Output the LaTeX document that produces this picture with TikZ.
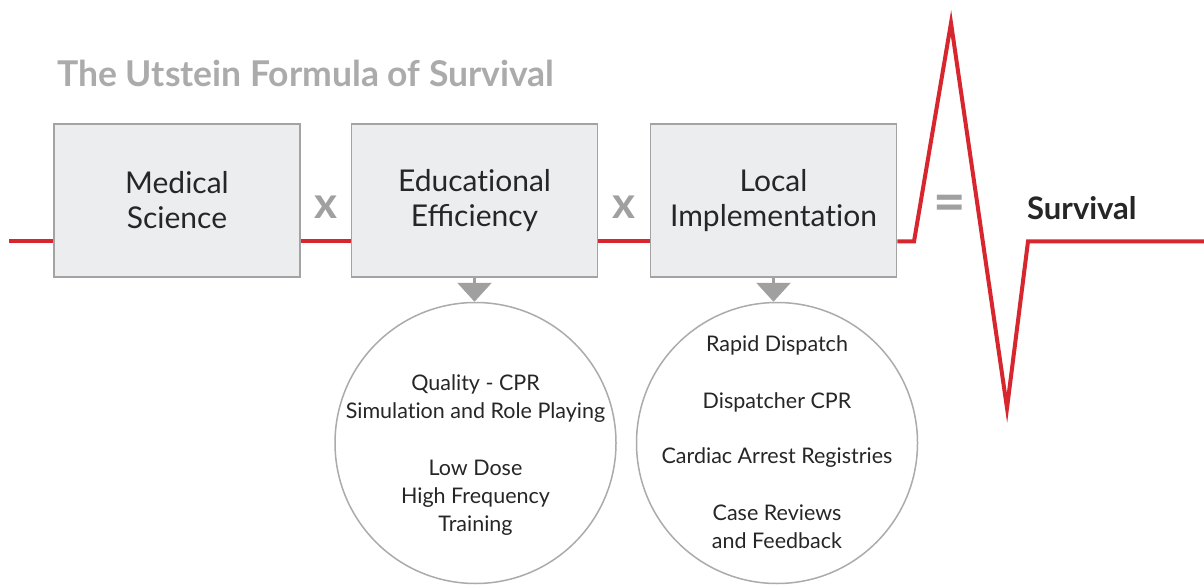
\documentclass[tikz,border=0pt]{standalone}
\usepackage{fontspec}
\setmainfont{Lato}
\usetikzlibrary{arrows.meta}
\definecolor{ekg}{HTML}{D8262E}
\definecolor{boxfill}{HTML}{ECEDEF}
\definecolor{boxline}{HTML}{A3A3A3}
\definecolor{symgray}{HTML}{A0A0A0}
\definecolor{titlegray}{HTML}{ABABAB}
\definecolor{ink}{HTML}{262626}
\definecolor{circline}{HTML}{ABABAB}
\newcommand{\nolig}{\kern0pt }
\begin{document}
\begin{tikzpicture}[x=1pt,y=-1pt,
  box/.style={draw=boxline, line width=1.5pt, fill=boxfill, minimum width=246pt,
    minimum height=153pt, inner sep=0pt, align=center,
    font=\fontsize{30}{35}\selectfont, text=ink},
  ekgline/.style={draw=ekg, line width=4pt},
  sym/.style={text=symgray, font=\fontsize{44}{44}\selectfont\bfseries, inner sep=0pt},
  circ/.style={circle, draw=circline, line width=1.5pt, fill=white, minimum size=281pt, inner sep=0pt},
  ctext/.style={text=ink, align=center, font=\fontsize{21.5}{28}\selectfont, inner sep=0pt},
  downarrow/.style={draw=symgray, line width=3pt, -{Triangle[width=34pt,length=19pt]}}
]
\useasboundingbox[fill=white] (0,0) rectangle (1204,585);

% title
\node[anchor=west, text=titlegray, font=\fontsize{35.5}{36}\selectfont\bfseries, inner sep=0pt] (title) at (57,73) {The Utstein Formula of Survival};

% boxes
\node[box] (b1) at (177,200.5) {Medical\\Science};
\node[box] (b2) at (474.5,200.5) {Educat\nolig ional\\Efficiency};
\node[box] (b3) at (773.5,200.5) {Local\\Implementat\nolig ion};

% ekg line
\coordinate (s) at (9,241.5);
\coordinate (k1) at (914,241.5);
\coordinate (pk) at (951,23);
\coordinate (tr) at (1007,408);
\coordinate (k2) at (1028,241.5);
\coordinate (e) at (1204,241.5);
\draw[ekgline] (s) -- (s -| b1.west);
\draw[ekgline] (b1.east |- s) -- (b2.west |- s);
\draw[ekgline] (b2.east |- s) -- (b3.west |- s);
\draw[ekgline] (b3.east |- s) -- (k1) -- (pk) -- (tr) -- (k2) -- (e);

% operators
\node[sym] (x1) at (326,207) {x};
\node[sym] (x2) at (623.5,207) {x};
\node[sym, font=\fontsize{56}{56}\selectfont\bfseries] (eq) at (950,208.5) {=};
\node[anchor=west, text=ink, font=\fontsize{31}{31}\selectfont\bfseries, inner sep=0pt] (surv) at (1027,208) {Survival};

% circles
\node[circ] (c1) at (475.5,443) {};
\node[circ] (c2) at (777,443) {};
\draw[downarrow] (b2.south) -- (b2.south |- c1.north);
\draw[downarrow] (b3.south) -- (b3.south |- c2.north);

% left circle text
\node[ctext] (q1) at (475.5,399) {Quality - CPR\\Simulat\nolig ion and Role Playing};
\node[ctext] (q2) at (475.5,497.5) {Low Dose\\High Frequency\\Training};

% right circle text
\node[ctext] (r1) at (777,345) {Rapid Dispatch};
\node[ctext] (r2) at (777,402) {Dispatcher CPR};
\node[ctext] (r3) at (777,458) {Cardiac Arrest Registries};
\node[ctext] (r4) at (777,527) {Case Reviews\\and Feedback};
\end{tikzpicture}
\end{document}
